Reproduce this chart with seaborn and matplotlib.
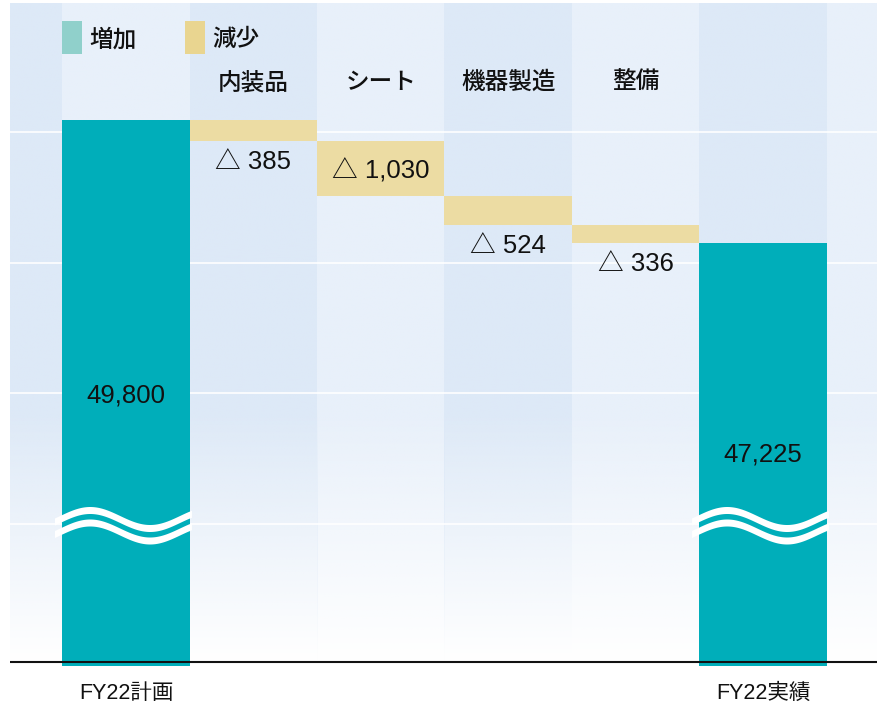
import numpy as np
import pandas as pd
import matplotlib
matplotlib.use("Agg")
import matplotlib.pyplot as plt
from matplotlib.patches import Rectangle, Polygon
import seaborn as sns

# ---------------- data ----------------
categories = ["FY22計画", "内装品", "シート", "機器製造", "整備", "FY22実績"]
plan_value = 49800
decrease_labels = ["内装品", "シート", "機器製造", "整備"]
decrease_values = [385, 1030, 524, 336]
actual_value = 47225
legend_labels = ["増加", "減少"]
total_tick_labels = ["FY22計画", "FY22実績"]

# ---------------- style ----------------
sns.set_theme(style="white")
FONT = ["Liberation Sans", "Noto Sans CJK JP", "DejaVu Sans"]
plt.rcParams["font.family"] = FONT

TEAL = "#00aeba"
DEC = "#ecdca3"
LEG_INC = "#90d0cb"
LEG_DEC = "#e9d590"
STRIPE_LIGHT = "#e8f0fa"
STRIPE_DARK = "#dde9f7"
TXT = "#111111"

W, H = 877, 704
fig = plt.figure(figsize=(W / 100, H / 100), dpi=100)
fig.patch.set_facecolor("white")
AX_TOP_PX, AX_BOT_PX = 3, 666
ax = fig.add_axes([10 / W, (H - AX_BOT_PX) / H, (W - 10) / W, (AX_BOT_PX - AX_TOP_PX) / H])

# vertical scale (broken axis): units per pixel
UPP = 18.5
PLAN_PX = 120
Y_TOP = plan_value + (PLAN_PX - AX_TOP_PX) * UPP
Y_BOT = plan_value - (AX_BOT_PX - PLAN_PX) * UPP
BASE = plan_value - (662 - PLAN_PX) * UPP
X_LEFT, X_RIGHT = -0.91, 5.895

# ---------------- background stripes with fade ----------------
n = 300
frac = np.linspace(1, 0, n)  # top -> bottom
fade_px = 250
fade_frac = fade_px / (662 - AX_TOP_PX)
alpha = np.clip(frac / fade_frac, 0, 1)
for i in range(-1, 7):
    col = STRIPE_LIGHT if i % 2 == 0 else STRIPE_DARK
    rgb = matplotlib.colors.to_rgb(col)
    img = np.zeros((n, 1, 4))
    img[:, 0, :3] = rgb
    img[:, 0, 3] = alpha
    x0 = max(i - 0.5, X_LEFT)
    x1 = min(i + 0.5, X_RIGHT)
    ax.imshow(img, extent=(x0, x1, BASE, Y_TOP), aspect="auto",
              interpolation="bilinear", zorder=0.5)

# gridlines
GRID_STEP_PX = 130.5
for k in range(4):
    gy = plan_value - (132 - PLAN_PX + k * GRID_STEP_PX) * UPP
    ax.axhline(gy, color="white", lw=1.3, alpha=0.9, zorder=1)

# ---------------- waterfall bars ----------------
tops = []
bottoms = []
running = plan_value
for d in decrease_values:
    tops.append(running)
    bottoms.append(running - d)
    running -= d
final_level = running

df_tot = pd.DataFrame({"cat": [categories[0], categories[-1]],
                       "h": [plan_value - Y_BOT, final_level - Y_BOT]})
sns.barplot(data=df_tot, x="cat", y="h", order=categories, color=TEAL,
            saturation=1, width=1.0, errorbar=None, bottom=Y_BOT,
            linewidth=0, ax=ax, zorder=3)

df_dec = pd.DataFrame({"cat": decrease_labels, "h": decrease_values})
sns.barplot(data=df_dec, x="cat", y="h", order=categories, color=DEC,
            saturation=1, width=1.0, errorbar=None, bottom=np.array(bottoms),
            linewidth=0, ax=ax, zorder=3)

# axis baseline
ax.axhline(BASE, color="#111111", lw=1.5, zorder=4)

# ---------------- wavy break marks ----------------
A = 9 * UPP
TH = 7 * UPP
SEP = 12.5 * UPP
WAVE_C = plan_value - (519.5 - PLAN_PX) * UPP
xr = np.linspace(-0.557, 0.518, 200)
for ci in [0, len(categories) - 1]:
    for j in range(2):
        yc = WAVE_C - j * SEP + A * np.cos(2 * np.pi * (xr + 0.28) / 0.94)
        xs = ci + xr
        pts = np.concatenate([np.column_stack([xs, yc + TH / 2]),
                              np.column_stack([xs[::-1], (yc - TH / 2)[::-1]])])
        ax.add_patch(Polygon(pts, closed=True, facecolor="white",
                             edgecolor="none", zorder=5))

# ---------------- labels ----------------
VFS = 18.5
NUDGE = 2.5 * UPP  # visual centring of digits
for ci, d, b, t in zip(range(1, 5), decrease_values, bottoms, tops):
    txt = f"△ {d:,}"
    if d > 700:
        y = (b + t) / 2 - NUDGE
    else:
        y = b - 19 * UPP - NUDGE
    ax.text(ci, y, txt, ha="center", va="center", fontsize=VFS,
            color=TXT, zorder=6)

ax.text(0, (plan_value + Y_BOT) / 2 - NUDGE, f"{plan_value:,}", ha="center",
        va="center", fontsize=VFS, color=TXT, zorder=6)
ax.text(len(categories) - 1, (final_level + Y_BOT) / 2, f"{actual_value:,}",
        ha="center", va="center", fontsize=VFS, color=TXT, zorder=6)

# column headers
HEAD_Y = plan_value + (PLAN_PX - 83) * UPP
for ci, lab in zip(range(1, 5), decrease_labels):
    ax.text(ci, HEAD_Y, lab, ha="center", va="center", fontsize=17,
            fontweight="medium", color=TXT, zorder=6)

# legend
for (px, col, lab) in [(62, LEG_INC, legend_labels[0]), (185, LEG_DEC, legend_labels[1])]:
    fig.add_artist(Rectangle((px / W, 1 - 54 / H), 20 / W, 33 / H,
                             transform=fig.transFigure, facecolor=col,
                             edgecolor="none", zorder=10))
    fig.text((px + 27) / W, 1 - 40 / H, lab, ha="left", va="center",
             fontsize=17, fontweight="medium", color=TXT, zorder=10)

# axes cosmetics
ax.set_xlim(X_LEFT, X_RIGHT)
ax.set_ylim(Y_BOT, Y_TOP)
ax.set_xticks([0, len(categories) - 1])
ax.set_xticklabels(total_tick_labels, fontsize=15.5, color=TXT)
ax.tick_params(axis="x", length=0, pad=12)
ax.set_yticks([])
ax.set_xlabel("")
ax.set_ylabel("")
for s in ax.spines.values():
    s.set_visible(False)
ax.set_facecolor("white")

fig.savefig("out.png", dpi=100)
